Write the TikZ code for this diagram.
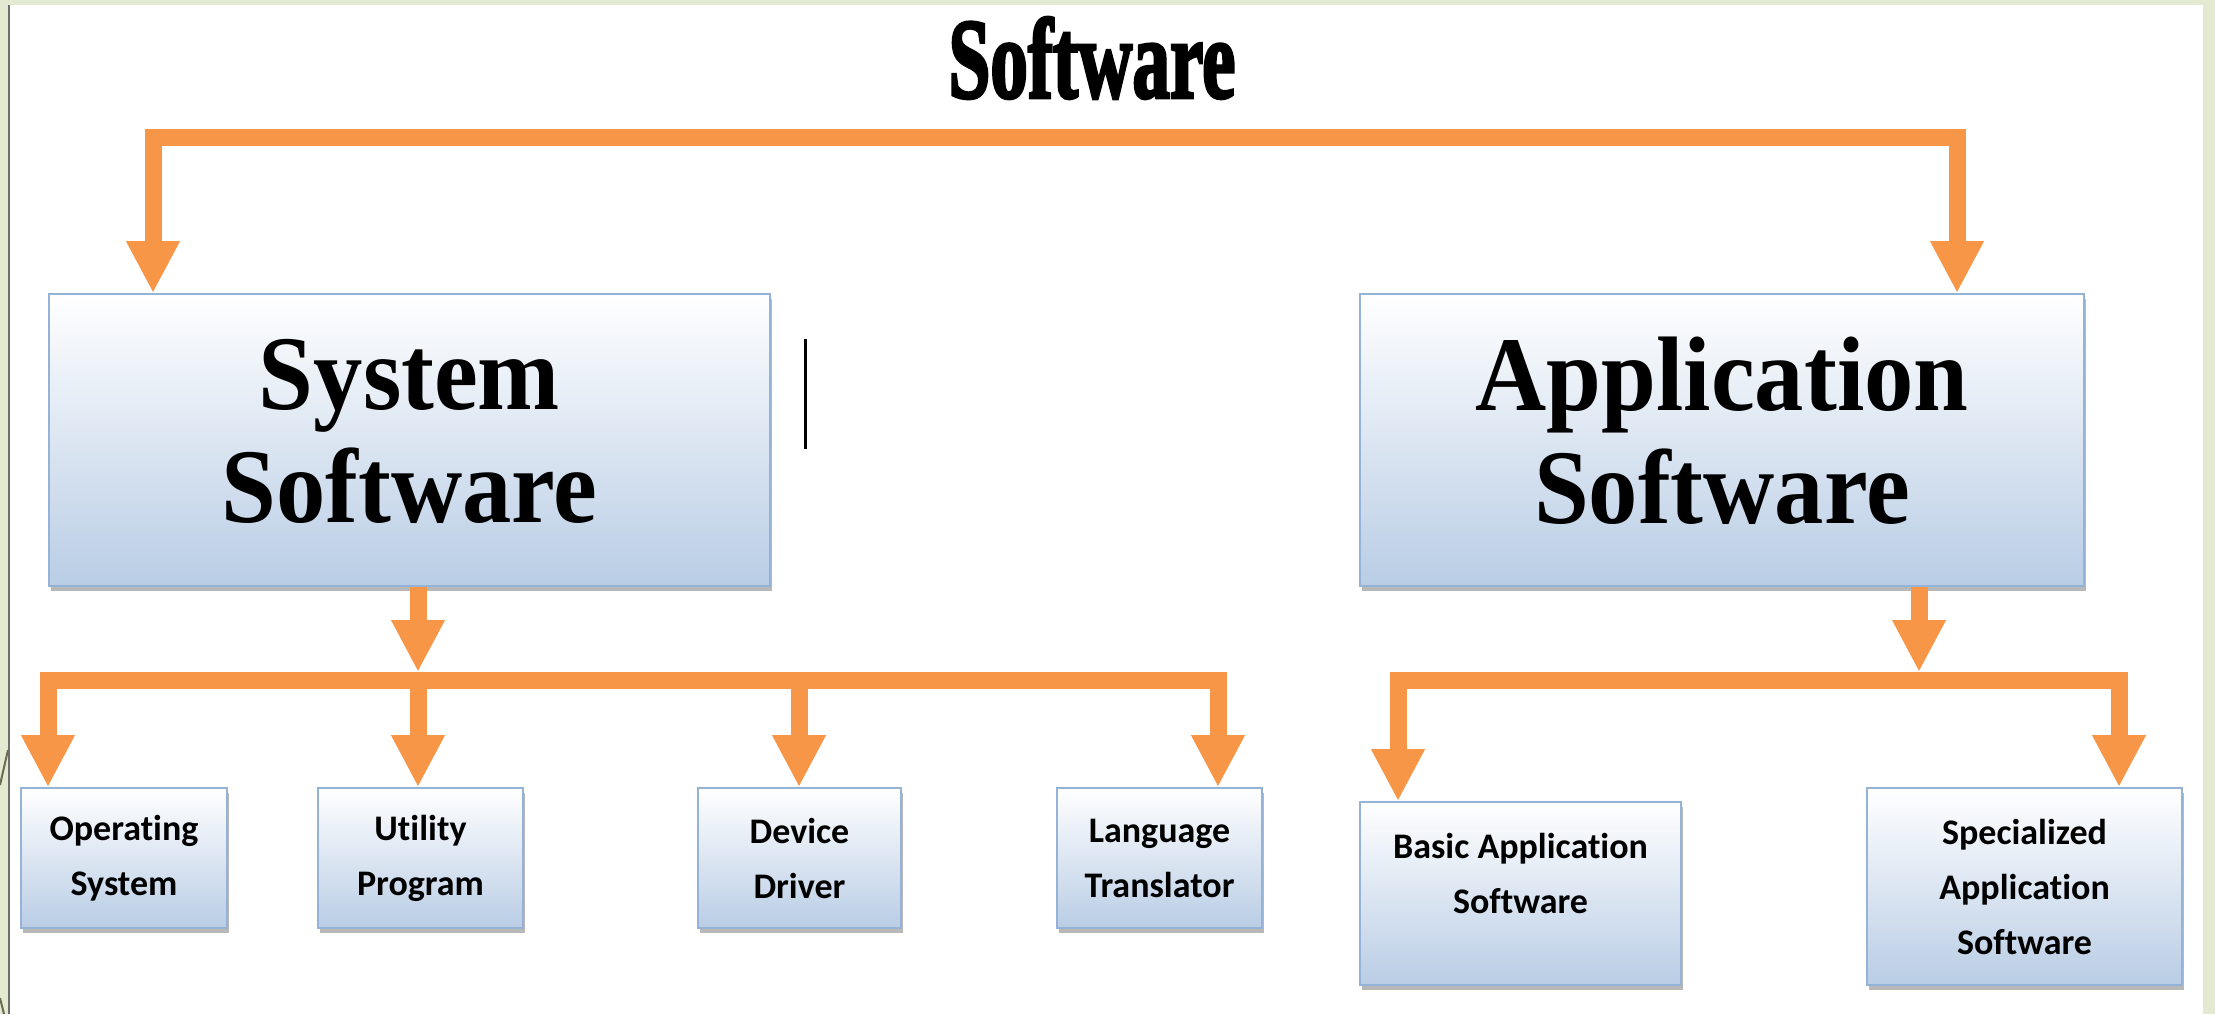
\documentclass[tikz,border=0pt]{standalone}
\usepackage{fontspec}
\setmainfont{Liberation Serif}
\newfontfamily\calfont[Ligatures=NoCommon]{Carlito}
\newfontfamily\titlefont[BoldFeatures={FakeBold=3}]{Liberation Serif}
\usetikzlibrary{arrows.meta,shadows}
\definecolor{orng}{HTML}{F79646}
\definecolor{bxline}{HTML}{95B3D7}
\definecolor{bxbot}{HTML}{B9CDE5}
\definecolor{bggreen}{HTML}{E3EAD1}
\definecolor{edgegray}{HTML}{6E6E6A}
\definecolor{olive}{HTML}{6B6B52}
\begin{document}
\begin{tikzpicture}[x=0.5pt,y=-0.5pt,
  box/.style={draw=bxline, line width=0.9pt, top color=white, bottom color=bxbot,
    drop shadow={shadow xshift=0.8pt, shadow yshift=-2.5pt, fill=black!55, opacity=0.5},
    inner sep=0pt, align=center},
  bigtext/.style={font=\fontsize{53}{56.5}\selectfont\bfseries, align=center, inner sep=0pt},
  smalltext/.style={font=\calfont\bfseries\fontsize{18}{27.5}\selectfont},
  arr/.style={draw=orng, line width=8.5pt, -{Triangle[width=25pt,length=26pt]}},
  twoarr/.style={draw=orng, line width=8.5pt, {Triangle[width=25pt,length=26pt]}-{Triangle[width=25pt,length=26pt]}}
]
\useasboundingbox (0,0) rectangle (2215,1014);
% background
\fill[bggreen] (0,0) rectangle (2215,1014);
\fill[white] (10,5) rectangle (2203,1014);
\draw[edgegray, line width=1.2pt] (9,5) -- (9,1014);
\draw[olive, line width=1pt] (0,785) -- (8,750);
\draw[olive, line width=1pt] (0,998) -- (4,1014);

% title
\node[font=\titlefont\bfseries\fontsize{57}{60}\selectfont, inner sep=0pt] (title) at (1092,58) {\scalebox{0.66}[1]{Software}};

% main boxes
\node[box, minimum width=360.5pt, minimum height=146pt] (sys) at (409.5,440) {};
\node[bigtext] (systext) at ([yshift=4.5pt]sys.center) {\scalebox{0.93}[1]{System}\\\scalebox{0.93}[1]{Software}};
\node[box, minimum width=362pt, minimum height=146pt] (app) at (1722,440) {};
\node[bigtext] (apptext) at ([yshift=4.5pt]app.center) {\scalebox{0.93}[1]{Application}\\\scalebox{0.93}[1]{Software}};

% cursor mark
\coordinate (cura) at (805,339);
\coordinate (curb) at (805,449);
\draw[black, line width=1.5pt] (cura) -- (curb);

% small boxes
\node[box, smalltext, minimum width=103pt, minimum height=70pt] (os) at (124,858) {Operating\\System};
\node[box, smalltext, minimum width=102.5pt, minimum height=70pt] (util) at (420.5,858) {Utility\\Program};
\node[box, smalltext, minimum width=101.5pt, minimum height=70pt] (dev) at (799.5,858) {Device\\Driver};
\node[box, smalltext, minimum width=102.5pt, minimum height=70pt] (lang) at (1159.5,858) {Language\\Translator};
\node[box, minimum width=160.5pt, minimum height=91.5pt] (basic) at (1520.5,893.5) {};
\node[smalltext, align=center, inner sep=0pt] (basictext) at ([yshift=10pt]basic.center) {Basic Application\\Software};
\node[box, smalltext, minimum width=157.5pt, minimum height=98.5pt] (spec) at (2024.5,886.5) {Specialized\\Application\\Software};

% top connector
\coordinate (tl) at (153,137);
\coordinate (tr) at (1957,137);
\draw[twoarr] (tl |- sys.north) -- (tl) -- (tr) -- (tr |- app.north);

% system software branch
\coordinate (sl) at (48,680);
\coordinate (sr) at (1218,680);
\coordinate (su) at (418,680);
\coordinate (sut) at (418,672);
\coordinate (sd) at (799,680);
\draw[arr] (sut |- sys.south) -- (sut);
\draw[twoarr] (sl |- os.north) -- (sl) -- (sr) -- (sr |- lang.north);
\draw[arr] (su) -- (su |- util.north);
\draw[arr] (sd) -- (sd |- dev.north);

% application software branch
\coordinate (al) at (1398,680);
\coordinate (ar) at (2119,680);
\coordinate (at) at (1919,672);
\draw[arr] (at |- app.south) -- (at);
\draw[twoarr] (al |- basic.north) -- (al) -- (ar) -- (ar |- spec.north);
\end{tikzpicture}
\end{document}
